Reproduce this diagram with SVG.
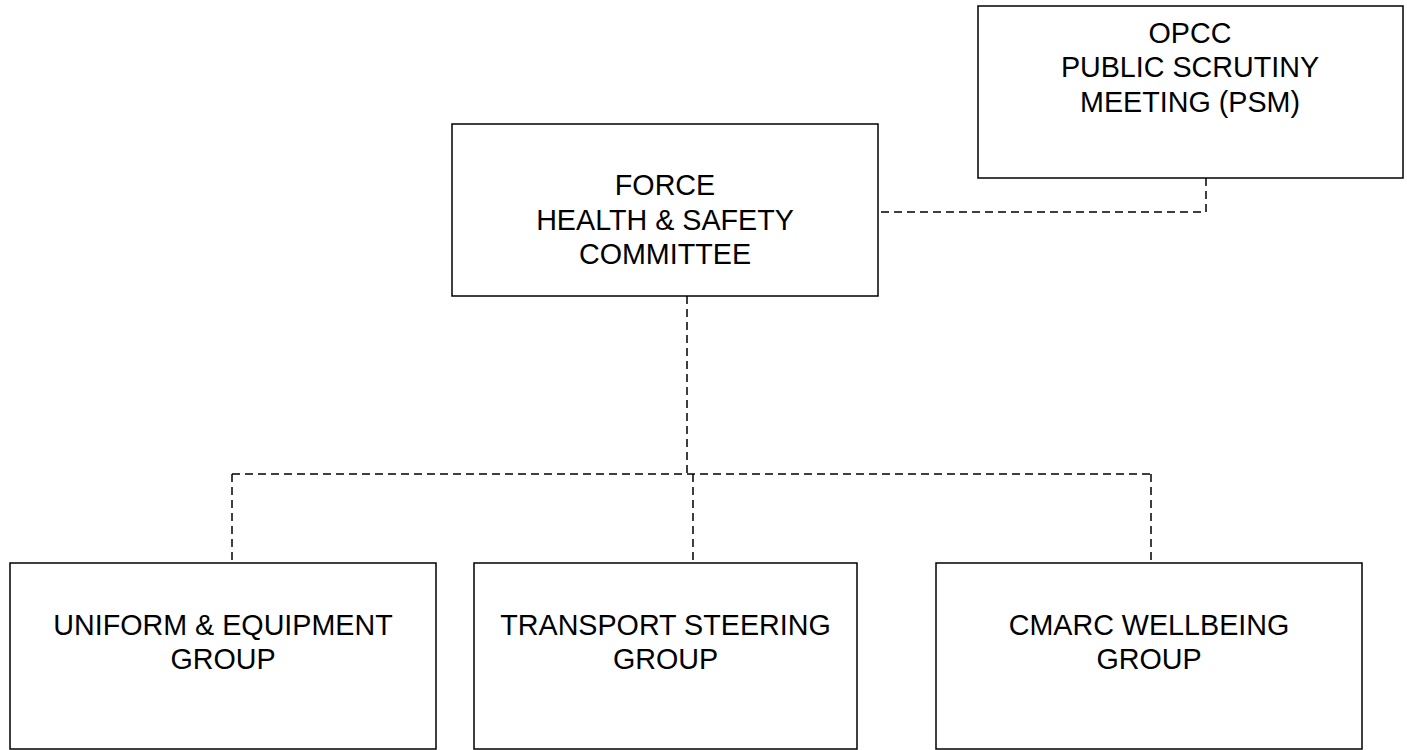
<svg xmlns="http://www.w3.org/2000/svg" width="1407" height="750" viewBox="0 0 1407 750">
<style>
.box{fill:#fff;stroke:#000;stroke-width:1.5}
.t{font-family:"Liberation Sans",Arial,sans-serif;font-size:28.7px;fill:#000;text-anchor:middle}
.c{fill:none;stroke:#000;stroke-width:1.5;stroke-dasharray:8 5}
</style>
<rect width="1407" height="750" fill="#fff"/>
<g id="connectors">
<polyline class="c" points="1206,178 1206,212 878,212"/>
<line class="c" x1="687" y1="296" x2="687" y2="474"/>
<line class="c" x1="232" y1="474" x2="1151" y2="474"/>
<line class="c" x1="232" y1="474" x2="232" y2="563"/>
<line class="c" x1="693" y1="474" x2="693" y2="563"/>
<line class="c" x1="1151" y1="474" x2="1151" y2="563"/>
</g>
<g id="opcc">
<rect class="box" x="978" y="6" width="425" height="172"/>
<text class="t" x="1190" y="43">OPCC</text>
<text class="t" x="1190" y="77">PUBLIC SCRUTINY</text>
<text class="t" x="1190" y="112">MEETING (PSM)</text>
</g>
<g id="force">
<rect class="box" x="452" y="124" width="426" height="172"/>
<text class="t" x="665" y="195">FORCE</text>
<text class="t" x="665" y="230">HEALTH &amp; SAFETY</text>
<text class="t" x="665" y="264">COMMITTEE</text>
</g>
<g id="uniform">
<rect class="box" x="10" y="563" width="426" height="186"/>
<text class="t" x="223" y="635">UNIFORM &amp; EQUIPMENT</text>
<text class="t" x="223" y="669">GROUP</text>
</g>
<g id="transport">
<rect class="box" x="474" y="563" width="383" height="186"/>
<text class="t" x="665.5" y="635">TRANSPORT STEERING</text>
<text class="t" x="665.5" y="669">GROUP</text>
</g>
<g id="cmarc">
<rect class="box" x="936" y="563" width="426" height="186"/>
<text class="t" x="1149" y="635">CMARC WELLBEING</text>
<text class="t" x="1149" y="669">GROUP</text>
</g>
</svg>
